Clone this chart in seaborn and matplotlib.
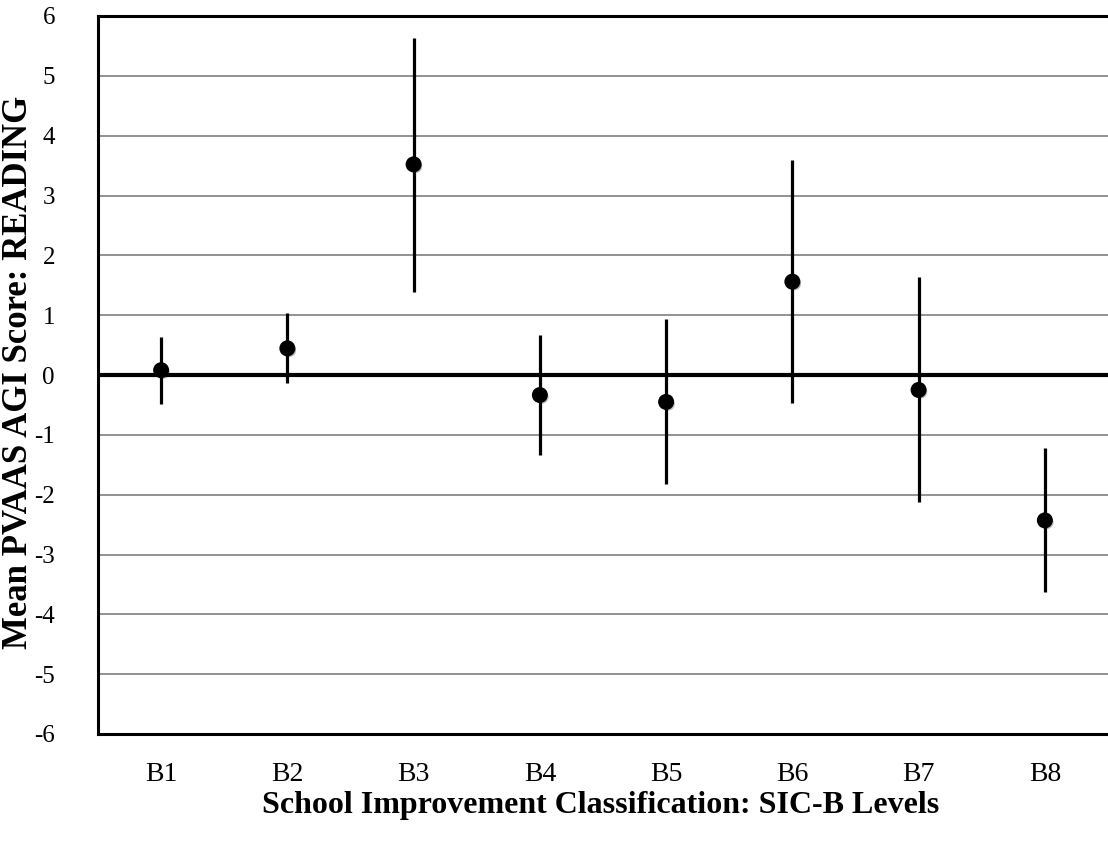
import matplotlib
matplotlib.use("Agg")
import matplotlib.pyplot as plt
import matplotlib.patheffects as pe
import seaborn as sns
import pandas as pd
import numpy as np

levels = ["B1", "B2", "B3", "B4", "B5", "B6", "B7", "B8"]
means = [0.08, 0.445, 3.52, -0.335, -0.45, 1.56, -0.25, -2.43]
upper = [0.63, 1.03, 5.63, 0.67, 0.93, 3.59, 1.64, -1.22]
lower = [-0.48, -0.135, 1.38, -1.34, -1.82, -0.46, -2.12, -3.62]
yticks = [-6, -5, -4, -3, -2, -1, 0, 1, 2, 3, 4, 5, 6]

df = pd.DataFrame({"level": levels, "mean": means, "upper": upper, "lower": lower})

sns.set_theme(style="white")
plt.rcParams["font.family"] = ["Liberation Serif", "DejaVu Serif"]
plt.rcParams["text.color"] = "black"
plt.rcParams["xtick.color"] = "black"
plt.rcParams["ytick.color"] = "black"
plt.rcParams["xtick.labelcolor"] = "black"
plt.rcParams["ytick.labelcolor"] = "black"

W, H = 1108, 842
fig = plt.figure(figsize=(W / 100, H / 100), dpi=100)
ax = fig.add_axes([98 / W, 1 - 734 / H, 1 - 98 / W, (734 - 16) / H])

# gridlines
for t in yticks:
    if t == 0:
        continue
    ax.axhline(t, color="#7f7f7f", lw=1.2, zorder=0)
ax.axhline(0, color="black", lw=3.0, zorder=1)

# error bars
ax.vlines(x=np.arange(len(levels)), ymin=df["lower"], ymax=df["upper"],
          color="black", lw=2.3, zorder=2)

sns.pointplot(data=df, x="level", y="mean", order=levels, linestyle="none",
              color="black", markers="o", errorbar=None, ax=ax, zorder=3)
for ln in ax.lines:
    ln.set_markersize(9.5)
    ln.set_path_effects([pe.SimplePatchShadow(offset=(1.5, -1.5), alpha=0.25), pe.Normal()])

ax.set_xlim(-0.5, len(levels) - 0.5)
ax.set_ylim(-6, 6)
ax.set_yticks(yticks)
ax.set_yticklabels([str(t) for t in yticks])
ax.tick_params(axis="y", length=0, pad=31, labelsize=18, labelcolor="black")
ax.tick_params(axis="x", length=0, pad=20, labelsize=20, labelcolor="black")

for s in ["left", "bottom", "top"]:
    ax.spines[s].set_color("black")
    ax.spines[s].set_linewidth(2.2)
ax.spines["right"].set_visible(False)

ax.set_xlabel("")
ax.set_ylabel("")
fig.text(601 / W, 1 - 806 / H, "School Improvement Classification: SIC-B Levels",
         fontsize=23, fontweight="bold", ha="center", va="center", color="black")
fig.text(19 / W, 1 - 372 / H, "Mean PVAAS AGI Score: READING",
         fontsize=25, fontweight="bold", ha="center", va="center", rotation=90,
         color="black")

fig.savefig("out.png", dpi=100)
